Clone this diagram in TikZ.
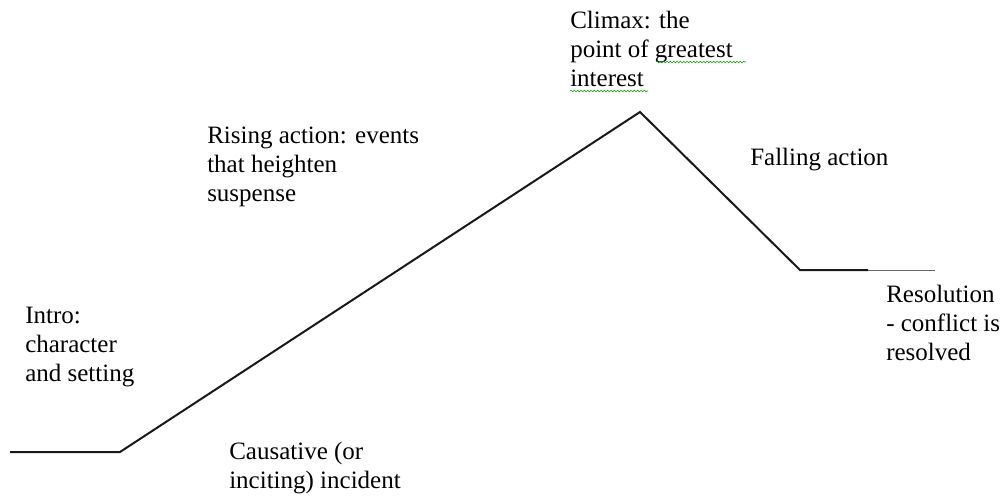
\documentclass[tikz,border=0pt]{standalone}
\usepackage{fontspec}
\setmainfont{Liberation Serif}
\usetikzlibrary{decorations.pathmorphing}
\tikzset{
  lbl/.style={anchor=base west, inner sep=0pt, align=left, font=\fontsize{18.75pt}{21.75pt}\selectfont},
  plot/.style={line width=1.5pt, black!90, line join=miter},
  thin/.style={line width=0.75pt, black!60},
  squiggle/.style={green!60!black, line width=0.4pt, decorate, decoration={snake, amplitude=0.6pt, segment length=2.5pt}}
}
\begin{document}
\begin{tikzpicture}[x=0.75pt,y=-0.75pt]
\useasboundingbox (0,0) rectangle (1004,496);
\coordinate (start) at (10,452);
\coordinate (incite) at (120,452);
\coordinate (peak) at (640,112);
\coordinate (fallend) at (800,270);
\coordinate (resmid) at (868,270);
\coordinate (resend) at (935,270);
\draw[plot] (start) -- (incite) -- (peak) -- (fallend) -- (resmid);
\draw[thin] (resmid) -- (resend);
% anchor base = baseline of the last line
\node[lbl] (climax) at (570,86) {Climax: the\\point of greatest\\interest};
\node[lbl] (rising) at (207,201) {Rising action: events\\that heighten\\suspense};
\node[lbl] (falling) at (750,165) {Falling action};
\node[lbl] (resol) at (886,360) {Resolution\\- conflict is\\resolved};
\node[lbl] (intro) at (25,381) {Intro:\\character\\and setting};
\node[lbl] (causative) at (229,488) {Causative (or\\inciting) incident};
\coordinate (sq1a) at (656,62);
\coordinate (sq1b) at (746,62);
\coordinate (sq2a) at (570,91);
\coordinate (sq2b) at (648,91);
\draw[squiggle] (sq1a) -- (sq1b);
\draw[squiggle] (sq2a) -- (sq2b);
\end{tikzpicture}
\end{document}
